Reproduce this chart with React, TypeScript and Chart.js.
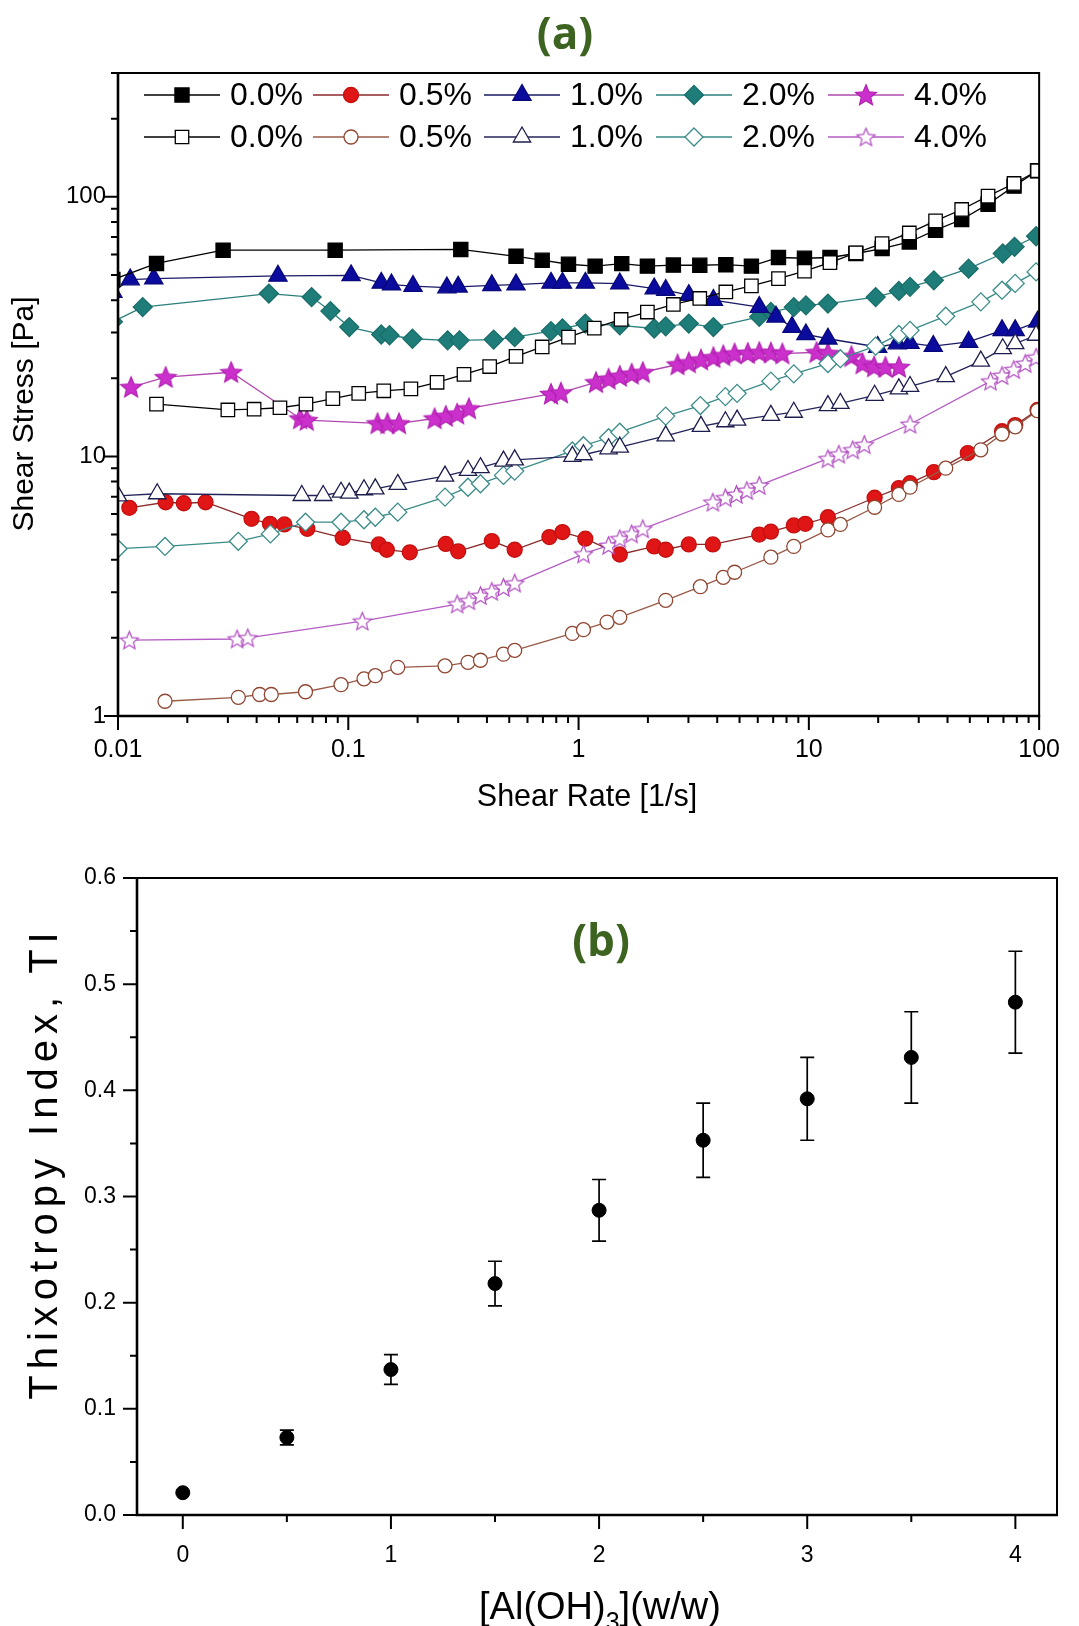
import React, { useEffect, useRef } from 'react';
import { Chart, registerables } from 'chart.js';

Chart.register(...registerables);

const SANS = "'Liberation Sans', Arial, Helvetica, sans-serif";
const TAG_FONT = "700 44px 'Open Sans', 'Liberation Sans', sans-serif";
const TAG_GREEN = '#3d6320';

// ---------- Panel (a): flow curves ----------
const RATE_TICKS = [0.01, 0.1, 1, 10, 100];
const RATE_TICK_LABELS = ['0.01', '0.1', '1', '10', '100'];
const STRESS_TICKS = [1, 10, 100];
const STRESS_TICK_LABELS = ['1', '10', '100'];
const CONCENTRATIONS = ['0.0%', '0.5%', '1.0%', '2.0%', '4.0%'];

// filled symbols
const RATE_F00 = [0.0095, 0.0147, 0.0286, 0.0877, 0.308, 0.535, 0.695, 0.904, 1.18, 1.54, 1.99, 2.58, 3.36, 4.36, 5.63, 7.38, 9.57, 12.35, 16.0, 20.8, 27.3, 35.5, 46.1, 60.0, 77.8, 98.4];
const STRESS_F00 = [48, 55.4, 62.3, 62.3, 62.7, 59.0, 57.0, 55.0, 54.1, 55.3, 54.1, 54.6, 54.5, 54.8, 54.1, 58.4, 58.0, 58.4, 60.5, 63.2, 67.0, 74.4, 81.8, 93.7, 110, 126];

const RATE_F05 = [0.0112, 0.0161, 0.0193, 0.024, 0.038, 0.0457, 0.0528, 0.0664, 0.0946, 0.1357, 0.147, 0.185, 0.265, 0.3, 0.42, 0.528, 0.747, 0.851, 1.07, 1.51, 2.13, 2.39, 3.01, 3.83, 6.09, 6.84, 8.6, 9.65, 12.1, 19.3, 24.6, 27.5, 34.9, 49.0, 69.0, 78.7, 98.4];
const STRESS_F05 = [6.34, 6.66, 6.6, 6.66, 5.75, 5.5, 5.47, 5.26, 4.86, 4.58, 4.37, 4.27, 4.6, 4.31, 4.72, 4.37, 4.89, 5.11, 4.82, 4.19, 4.5, 4.37, 4.58, 4.58, 5.0, 5.13, 5.42, 5.5, 5.83, 6.93, 7.55, 7.89, 8.7, 10.3, 12.5, 13.2, 15.1];

const RATE_F10 = [0.0095, 0.0113, 0.0143, 0.0495, 0.1028, 0.139, 0.154, 0.191, 0.268, 0.3, 0.42, 0.535, 0.759, 0.851, 1.07, 1.51, 2.13, 2.39, 3.01, 3.85, 6.09, 7.2, 8.45, 9.71, 12.1, 19.9, 24.2, 27.5, 34.7, 49.4, 69.0, 78.7, 98.4];
const STRESS_F10 = [43, 48.0, 48.4, 49.6, 49.8, 46.6, 45.9, 45.3, 44.7, 45.0, 45.6, 45.9, 46.6, 46.6, 46.6, 46.3, 44.3, 43.7, 41.8, 40.0, 37.6, 34.5, 31.5, 29.5, 28.4, 26.4, 27.2, 27.3, 26.6, 27.6, 30.6, 30.6, 33.0];

const RATE_F20 = [0.0095, 0.0128, 0.0452, 0.0693, 0.0836, 0.101, 0.139, 0.151, 0.19, 0.27, 0.304, 0.428, 0.528, 0.759, 0.851, 1.07, 1.51, 2.13, 2.39, 3.01, 3.85, 6.09, 6.84, 8.6, 9.71, 12.1, 19.5, 24.6, 27.5, 34.9, 49.4, 69.5, 78.2, 97.0];
const STRESS_F20 = [33, 37.6, 42.4, 41.1, 36.3, 31.5, 29.5, 29.3, 28.4, 28.0, 28.0, 28.2, 28.8, 30.4, 31.1, 32.5, 32.0, 31.1, 31.7, 32.5, 31.5, 34.5, 36.0, 37.6, 38.2, 38.8, 41.1, 43.4, 45.0, 47.7, 52.9, 60.5, 64.2, 70.5];

const RATE_F40 = [0.0114, 0.0161, 0.031, 0.0618, 0.066, 0.134, 0.148, 0.166, 0.237, 0.265, 0.297, 0.334, 0.759, 0.838, 1.19, 1.35, 1.51, 1.7, 1.9, 2.69, 3.01, 3.4, 3.85, 4.25, 4.76, 5.43, 6.09, 6.84, 7.67, 10.8, 12.1, 15.3, 17.1, 19.2, 21.5, 24.6];
const STRESS_F40 = [18.5, 20.2, 21.1, 14.0, 13.8, 13.4, 13.4, 13.4, 14.0, 14.3, 14.6, 15.3, 17.4, 17.6, 19.3, 19.9, 20.4, 20.8, 21.1, 22.6, 23.0, 23.6, 24.1, 24.5, 24.9, 25.0, 25.2, 25.1, 24.9, 25.2, 25.0, 24.3, 22.8, 22.2, 22.1, 22.1];

// open symbols
const RATE_O00 = [0.0147, 0.03, 0.039, 0.0505, 0.0655, 0.0857, 0.111, 0.1426, 0.187, 0.243, 0.318, 0.411, 0.535, 0.695, 0.904, 1.17, 1.53, 1.99, 2.58, 3.36, 4.36, 5.63, 7.38, 9.57, 12.35, 16.0, 20.8, 27.3, 35.5, 46.1, 60.0, 77.8, 98.4];
const STRESS_O00 = [15.9, 15.1, 15.2, 15.4, 15.9, 16.7, 17.5, 17.9, 18.2, 19.3, 20.7, 22.2, 24.3, 26.4, 28.8, 31.2, 33.7, 36.0, 38.5, 40.6, 43.0, 45.4, 48.4, 51.7, 55.8, 60.8, 66.1, 72.6, 80.8, 89.4, 100.6, 112.6, 126];

const RATE_O05 = [0.016, 0.0333, 0.0412, 0.0463, 0.0652, 0.093, 0.117, 0.131, 0.164, 0.263, 0.331, 0.375, 0.472, 0.528, 0.94, 1.05, 1.33, 1.51, 2.39, 3.38, 4.25, 4.76, 6.84, 8.6, 12.1, 13.7, 19.3, 24.6, 27.5, 39.3, 55.8, 69, 78.7, 98.4];
const STRESS_O05 = [1.14, 1.18, 1.21, 1.21, 1.24, 1.32, 1.39, 1.43, 1.54, 1.56, 1.61, 1.64, 1.73, 1.79, 2.08, 2.15, 2.3, 2.4, 2.79, 3.15, 3.42, 3.58, 4.09, 4.5, 5.21, 5.47, 6.37, 7.14, 7.61, 9.01, 10.6, 12.2, 13.0, 15.0];

const RATE_O10 = [0.01, 0.0148, 0.0628, 0.0778, 0.093, 0.101, 0.117, 0.131, 0.164, 0.263, 0.331, 0.375, 0.472, 0.528, 0.94, 1.05, 1.35, 1.51, 2.39, 3.4, 4.34, 4.88, 6.84, 8.6, 12.1, 13.7, 19.3, 24.6, 27.5, 39.3, 55.8, 69.5, 78.7, 97];
const STRESS_O10 = [7.05, 7.18, 7.07, 7.07, 7.28, 7.22, 7.44, 7.5, 7.8, 8.4, 8.83, 9.05, 9.59, 9.7, 10.0, 10.15, 10.7, 10.86, 12.0, 13.05, 13.6, 13.8, 14.4, 14.8, 15.7, 16.0, 17.2, 18.2, 18.6, 20.3, 23.3, 26.0, 27.2, 29.3];

const RATE_O20 = [0.01, 0.016, 0.0333, 0.0459, 0.0652, 0.093, 0.117, 0.131, 0.164, 0.263, 0.331, 0.375, 0.472, 0.528, 0.94, 1.05, 1.35, 1.51, 2.39, 3.38, 4.34, 4.88, 6.84, 8.6, 12.1, 13.7, 19.5, 24.6, 27.5, 39.3, 55.8, 69, 78.7, 97];
const STRESS_O20 = [4.41, 4.5, 4.71, 5.03, 5.58, 5.58, 5.7, 5.83, 6.1, 6.97, 7.61, 7.85, 8.45, 8.78, 10.5, 11.0, 11.8, 12.4, 14.3, 15.7, 17.0, 17.5, 19.5, 20.8, 22.8, 23.8, 26.6, 29.5, 30.6, 34.7, 39.4, 43.7, 46.4, 51.4];

const RATE_O40 = [0.0112, 0.0329, 0.0366, 0.115, 0.297, 0.334, 0.375, 0.42, 0.472, 0.528, 1.05, 1.35, 1.51, 1.7, 1.9, 3.83, 4.34, 4.85, 5.38, 6.09, 12.1, 13.5, 15.5, 17.4, 27.5, 61.5, 69, 77.6, 87, 97];
const STRESS_O40 = [1.96, 1.98, 2.0, 2.32, 2.7, 2.78, 2.91, 3.02, 3.13, 3.25, 4.21, 4.54, 4.82, 5.03, 5.26, 6.66, 6.93, 7.14, 7.39, 7.73, 9.8, 10.2, 10.6, 11.1, 13.3, 19.5, 20.5, 21.6, 22.8, 24.1];

// ---------- Panel (b): thixotropy index ----------
const AL_CONTENT = [0, 0.5, 1, 1.5, 2, 2.5, 3, 3.5, 4];
const TI_VALUES = [0.021, 0.073, 0.137, 0.218, 0.287, 0.353, 0.392, 0.431, 0.483];
const TI_ERRORS = [0, 0.007, 0.014, 0.021, 0.029, 0.035, 0.039, 0.043, 0.048];
const AL_TICKS = [0, 1, 2, 3, 4];
const AL_TICK_LABELS = ['0', '1', '2', '3', '4'];
const TI_TICKS = [0, 0.1, 0.2, 0.3, 0.4, 0.5, 0.6];
const TI_TICK_LABELS = ['0.0', '0.1', '0.2', '0.3', '0.4', '0.5', '0.6'];

type Mark = { shape: string; radius: number; fill: string; edge: string; line: string };

const FILLED_MARKS: Mark[] = [
  { shape: 'rect', radius: 10, fill: '#000000', edge: '#000000', line: '#000000' },
  { shape: 'circle', radius: 7.5, fill: '#e01515', edge: '#c41010', line: '#8a2a2a' },
  { shape: 'triangle', radius: 10.5, fill: '#0b0b9e', edge: '#08087a', line: '#1a1a66' },
  { shape: 'rectRot', radius: 9.5, fill: '#1f7d79', edge: '#1a6e6a', line: '#2b807e' },
  { shape: 'star', radius: 11, fill: '#cc30cc', edge: '#b020b0', line: '#b048b0' },
];
const OPEN_MARKS: Mark[] = [
  { shape: 'rect', radius: 9.5, fill: '#ffffff', edge: '#000000', line: '#000000' },
  { shape: 'circle', radius: 7, fill: '#ffffff', edge: '#8f4530', line: '#9a5a48' },
  { shape: 'triangle', radius: 10, fill: '#ffffff', edge: '#1e1e4e', line: '#24245a' },
  { shape: 'rectRot', radius: 9, fill: '#ffffff', edge: '#3a8c89', line: '#3a8c89' },
  { shape: 'star', radius: 9.5, fill: '#ffffff', edge: '#b04cc0', line: '#b45cc4' },
];

const FILLED_SERIES = [
  [RATE_F00, STRESS_F00], [RATE_F05, STRESS_F05], [RATE_F10, STRESS_F10], [RATE_F20, STRESS_F20], [RATE_F40, STRESS_F40],
];
const OPEN_SERIES = [
  [RATE_O00, STRESS_O00], [RATE_O05, STRESS_O05], [RATE_O10, STRESS_O10], [RATE_O20, STRESS_O20], [RATE_O40, STRESS_O40],
];

function makeStar(m: Mark): HTMLCanvasElement {
  const size = Math.ceil(m.radius * 2 + 4);
  const c = document.createElement('canvas');
  c.width = size;
  c.height = size;
  const g = c.getContext('2d')!;
  const cx = size / 2;
  const cy = size / 2 + 0.8;
  g.beginPath();
  for (let i = 0; i < 10; i++) {
    const r = i % 2 === 0 ? m.radius : m.radius * 0.45;
    const a = -Math.PI / 2 + (i * Math.PI) / 5;
    g.lineTo(cx + r * Math.cos(a), cy + r * Math.sin(a));
  }
  g.closePath();
  g.fillStyle = m.fill;
  g.fill();
  g.lineWidth = 1.2;
  g.strokeStyle = m.edge;
  g.stroke();
  return c;
}

function drawMarker(ctx: CanvasRenderingContext2D, m: Mark, star: HTMLCanvasElement | null, x: number, y: number) {
  if (m.shape === 'star' && star) {
    ctx.drawImage(star, x - star.width / 2, y - star.height / 2);
    return;
  }
  const r = m.radius;
  ctx.save();
  ctx.fillStyle = m.fill;
  ctx.strokeStyle = m.edge;
  ctx.lineWidth = 1.3;
  ctx.beginPath();
  if (m.shape === 'rect') {
    const s = r * Math.SQRT1_2;
    ctx.rect(x - s, y - s, 2 * s, 2 * s);
  } else if (m.shape === 'circle') {
    ctx.arc(x, y, r, 0, Math.PI * 2);
  } else if (m.shape === 'triangle') {
    for (let k = 0; k < 3; k++) {
      const a = (k * 2 * Math.PI) / 3;
      ctx.lineTo(x + Math.sin(a) * r, y - Math.cos(a) * r);
    }
    ctx.closePath();
  } else {
    ctx.moveTo(x, y - r);
    ctx.lineTo(x + r, y);
    ctx.lineTo(x, y + r);
    ctx.lineTo(x - r, y);
    ctx.closePath();
  }
  ctx.fill();
  ctx.stroke();
  ctx.restore();
}

function textAt(ctx: CanvasRenderingContext2D, text: string, x: number, y: number, font: string, color: string, rotate = 0, spacing = 0) {
  ctx.save();
  ctx.translate(x, y);
  ctx.rotate(rotate);
  ctx.font = font;
  (ctx as any).letterSpacing = spacing + 'px';
  ctx.fillStyle = color;
  ctx.textAlign = 'center';
  ctx.textBaseline = 'middle';
  ctx.fillText(text, spacing / 2, 0);
  ctx.restore();
}

function logMinors(lo: number, hi: number): number[] {
  const out: number[] = [];
  for (let d = Math.floor(Math.log10(lo)); d <= Math.ceil(Math.log10(hi)); d++) {
    for (let k = 2; k <= 9; k++) {
      const v = k * Math.pow(10, d);
      if (v > lo && v <= hi + 1e-9) out.push(v);
    }
  }
  return out;
}

function drawFrame(chart: any, xMajor: number[], xMinor: number[], yMajor: number[], yMinor: number[]) {
  const { ctx, chartArea } = chart;
  const { left, right, top, bottom } = chartArea;
  const xs = chart.scales.x;
  const ys = chart.scales.y;
  ctx.save();
  ctx.strokeStyle = '#000';
  ctx.lineCap = 'butt';
  ctx.lineWidth = 2;
  ctx.beginPath();
  ctx.moveTo(left, top);
  ctx.lineTo(right, top);
  ctx.lineTo(right, bottom);
  ctx.stroke();
  ctx.lineWidth = 2.6;
  ctx.beginPath();
  ctx.moveTo(left, top - 1);
  ctx.lineTo(left, bottom);
  ctx.lineTo(right + 1, bottom);
  ctx.stroke();
  ctx.lineWidth = 2;
  ctx.beginPath();
  const tick = (vals: number[], len: number, horiz: boolean) => {
    vals.forEach((v) => {
      if (horiz) {
        const px = xs.getPixelForValue(v);
        ctx.moveTo(px, bottom);
        ctx.lineTo(px, bottom + len);
      } else {
        const py = ys.getPixelForValue(v);
        ctx.moveTo(left, py);
        ctx.lineTo(left - len, py);
      }
    });
  };
  tick(xMajor, 14, true);
  tick(xMinor, 7, true);
  tick(yMajor, 14, false);
  tick(yMinor, 7, false);
  ctx.stroke();
  ctx.restore();
}

function FlowCurves() {
  const ref = useRef<HTMLCanvasElement>(null);
  useEffect(() => {
    const canvas = ref.current!;
    const filledStar = makeStar(FILLED_MARKS[4]);
    const openStar = makeStar(OPEN_MARKS[4]);
    const pointStyleOf = (m: Mark, star: HTMLCanvasElement) => (m.shape === 'star' ? star : m.shape);

    const build = (series: number[][][], marks: Mark[], star: HTMLCanvasElement, tag: string) =>
      series.map(([rate, stress], i) => ({
        label: `${CONCENTRATIONS[i]} ${tag}`,
        data: rate.map((x, k) => ({ x, y: stress[k] })),
        showLine: true,
        borderColor: marks[i].line,
        borderWidth: 1.3,
        tension: 0,
        pointStyle: pointStyleOf(marks[i], star) as any,
        pointRadius: marks[i].radius,
        pointBackgroundColor: marks[i].fill,
        pointBorderColor: marks[i].edge,
        pointBorderWidth: 1.3,
      }));

    const datasets = [
      ...build(OPEN_SERIES, OPEN_MARKS, openStar, 'open'),
      ...build(FILLED_SERIES, FILLED_MARKS, filledStar, 'filled'),
    ];

    const xMinor = logMinors(0.01, 100);
    const yMinor = logMinors(1, 300);

    const decorations = {
      id: 'flowDecorations',
      afterDraw(chart: any) {
        const ctx = chart.ctx as CanvasRenderingContext2D;
        drawFrame(chart, RATE_TICKS, xMinor, STRESS_TICKS, yMinor);
        // legend: filled row above open row
        const cols = [144, 313, 484, 656, 828];
        const rows = [95, 137];
        [FILLED_MARKS, OPEN_MARKS].forEach((marks, r) => {
          marks.forEach((m, i) => {
            const x0 = cols[i];
            const y = rows[r];
            ctx.save();
            ctx.strokeStyle = m.line;
            ctx.lineWidth = 1.4;
            ctx.beginPath();
            ctx.moveTo(x0, y);
            ctx.lineTo(x0 + 76, y);
            ctx.stroke();
            ctx.restore();
            drawMarker(ctx, m, r === 0 ? filledStar : openStar, x0 + 38, y);
            ctx.save();
            ctx.font = `32px ${SANS}`;
            ctx.fillStyle = '#000';
            ctx.textAlign = 'left';
            ctx.textBaseline = 'middle';
            ctx.fillText(CONCENTRATIONS[i], x0 + 86, y + 1);
            ctx.restore();
          });
        });
        textAt(ctx, '(a)', 565, 36, TAG_FONT, TAG_GREEN);
        textAt(ctx, 'Shear Stress [Pa]', 25, 414, `30px ${SANS}`, '#000', -Math.PI / 2);
        textAt(ctx, 'Shear Rate [1/s]', 587, 798, `30.5px ${SANS}`, '#000');
      },
    };

    const chart = new Chart(canvas, {
      type: 'scatter',
      data: { datasets: datasets as any },
      options: {
        animation: false,
        responsive: false,
        devicePixelRatio: 1,
        events: [],
        layout: { padding: { left: 0, right: 25, top: 73, bottom: 0 } },
        plugins: { legend: { display: false }, tooltip: { enabled: false }, title: { display: false } },
        scales: {
          x: {
            type: 'logarithmic',
            min: 0.01,
            max: 100,
            afterBuildTicks: (s: any) => { s.ticks = RATE_TICKS.map((value) => ({ value })); },
            afterFit: (s: any) => { s.height = 114; },
            grid: { display: false, drawTicks: false },
            border: { display: false },
            ticks: {
              autoSkip: false, maxRotation: 0, minRotation: 0, padding: 19, color: '#000',
              font: { family: SANS, size: 25 },
              callback: (_v: any, i: number) => RATE_TICK_LABELS[i],
            },
          },
          y: {
            type: 'logarithmic',
            min: 1,
            max: 300,
            afterBuildTicks: (s: any) => { s.ticks = STRESS_TICKS.map((value) => ({ value })); },
            afterFit: (s: any) => { s.width = 118; },
            grid: { display: false, drawTicks: false },
            border: { display: false },
            ticks: {
              autoSkip: false, padding: 12, color: '#000',
              font: { family: SANS, size: 24 },
              callback: (_v: any, i: number) => STRESS_TICK_LABELS[i],
            },
          },
        },
      },
      plugins: [decorations],
    });
    return () => chart.destroy();
  }, []);
  return (
    <canvas
      ref={ref}
      width={1079}
      height={830}
      style={{ position: 'absolute', left: 0, top: 0, width: 1079, height: 830, display: 'block' }}
    />
  );
}

function ThixotropyPanel() {
  const ref = useRef<HTMLCanvasElement>(null);
  useEffect(() => {
    const canvas = ref.current!;
    const errorBars = {
      id: 'tiErrorBars',
      beforeDatasetsDraw(chart: any) {
        const { ctx } = chart;
        const xs = chart.scales.x;
        const ys = chart.scales.y;
        ctx.save();
        ctx.strokeStyle = '#000';
        ctx.lineWidth = 1.7;
        AL_CONTENT.forEach((c, i) => {
          if (!TI_ERRORS[i]) return;
          const px = xs.getPixelForValue(c);
          const hi = ys.getPixelForValue(TI_VALUES[i] + TI_ERRORS[i]);
          const lo = ys.getPixelForValue(TI_VALUES[i] - TI_ERRORS[i]);
          ctx.beginPath();
          ctx.moveTo(px, hi);
          ctx.lineTo(px, lo);
          ctx.moveTo(px - 7, hi);
          ctx.lineTo(px + 7, hi);
          ctx.moveTo(px - 7, lo);
          ctx.lineTo(px + 7, lo);
          ctx.stroke();
        });
        ctx.restore();
      },
    };
    const decorations = {
      id: 'tiDecorations',
      afterDraw(chart: any) {
        const ctx = chart.ctx as CanvasRenderingContext2D;
        drawFrame(chart, AL_TICKS, [0.5, 1.5, 2.5, 3.5], TI_TICKS, [0.05, 0.15, 0.25, 0.35, 0.45, 0.55]);
        textAt(ctx, '(b)', 601, 113, TAG_FONT, TAG_GREEN);
        textAt(ctx, 'Thixotropy Index, TI', 46, 336, `40px ${SANS}`, '#000', -Math.PI / 2, 6);
        // axis title with subscript
        const main1 = '[Al(OH)';
        const sub = '3';
        const main2 = '](w/w)';
        ctx.save();
        ctx.fillStyle = '#000';
        ctx.textBaseline = 'alphabetic';
        ctx.textAlign = 'left';
        ctx.font = `38px ${SANS}`;
        const w1 = ctx.measureText(main1).width;
        const w3 = ctx.measureText(main2).width;
        ctx.font = `25px ${SANS}`;
        const w2 = ctx.measureText(sub).width;
        const x0 = 600 - (w1 + w2 + w3) / 2;
        const base = 789;
        ctx.font = `38px ${SANS}`;
        ctx.fillText(main1, x0, base);
        ctx.fillText(main2, x0 + w1 + w2, base);
        ctx.font = `25px ${SANS}`;
        ctx.fillText(sub, x0 + w1, base + 11);
        ctx.restore();
      },
    };
    const chart = new Chart(canvas, {
      type: 'scatter',
      data: {
        datasets: [
          {
            label: 'TI',
            data: AL_CONTENT.map((x, i) => ({ x, y: TI_VALUES[i] })),
            pointStyle: 'circle',
            pointRadius: 7,
            pointBackgroundColor: '#000',
            pointBorderColor: '#000',
            pointBorderWidth: 1,
          },
        ],
      },
      options: {
        animation: false,
        responsive: false,
        devicePixelRatio: 1,
        events: [],
        layout: { padding: { left: 0, right: 22, top: 48, bottom: 0 } },
        plugins: { legend: { display: false }, tooltip: { enabled: false }, title: { display: false } },
        scales: {
          x: {
            type: 'linear',
            min: -0.22,
            max: 4.2,
            afterBuildTicks: (s: any) => { s.ticks = AL_TICKS.map((value) => ({ value })); },
            afterFit: (s: any) => { s.height = 111; },
            grid: { display: false, drawTicks: false },
            border: { display: false },
            ticks: {
              autoSkip: false, maxRotation: 0, minRotation: 0, padding: 27, color: '#000',
              font: { family: SANS, size: 23 },
              callback: (_v: any, i: number) => AL_TICK_LABELS[i],
            },
          },
          y: {
            type: 'linear',
            min: 0,
            max: 0.6,
            afterBuildTicks: (s: any) => { s.ticks = TI_TICKS.map((value) => ({ value })); },
            afterFit: (s: any) => { s.width = 137; },
            grid: { display: false, drawTicks: false },
            border: { display: false },
            ticks: {
              autoSkip: false, padding: 21, color: '#000',
              font: { family: SANS, size: 23 },
              callback: (_v: any, i: number) => TI_TICK_LABELS[i],
            },
          },
        },
      },
      plugins: [errorBars, decorations],
    });
    return () => chart.destroy();
  }, []);
  return (
    <canvas
      ref={ref}
      width={1079}
      height={796}
      style={{ position: 'absolute', left: 0, top: 830, width: 1079, height: 796, display: 'block' }}
    />
  );
}

export default function App() {
  return (
    <div
      style={{
        position: 'absolute',
        left: 0,
        top: 0,
        width: 1079,
        height: 1626,
        background: '#ffffff',
        overflow: 'hidden',
      }}
    >
      <FlowCurves />
      <ThixotropyPanel />
    </div>
  );
}
